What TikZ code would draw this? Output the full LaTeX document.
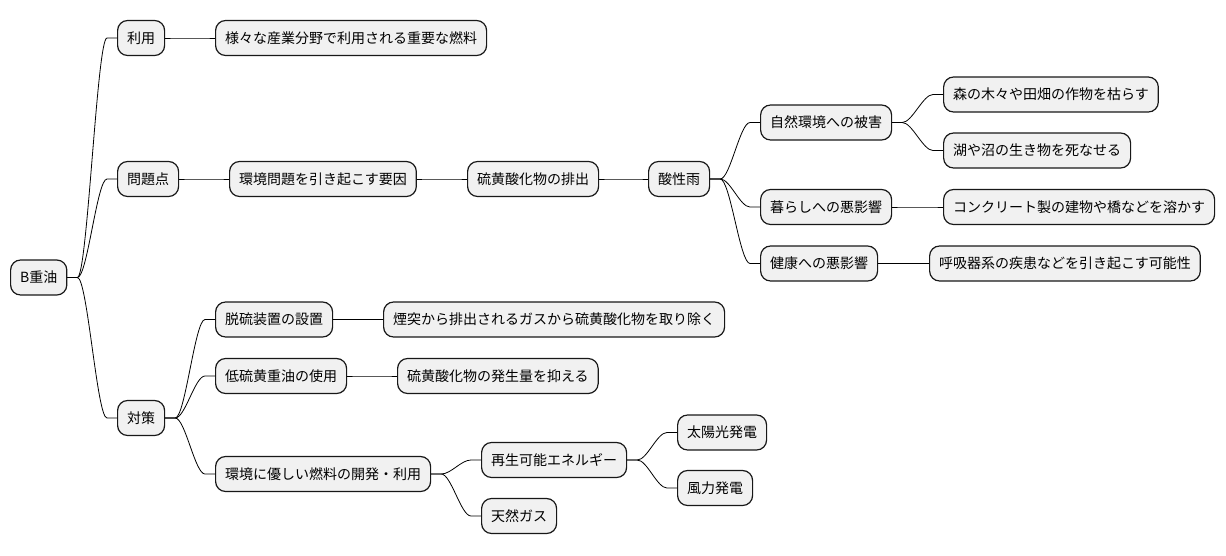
\documentclass[tikz,border=0pt]{standalone}
\usepackage{fontspec}
\newfontfamily\jpfont{Noto Sans CJK JP}
\usetikzlibrary{calc}
\definecolor{boxfill}{HTML}{F1F1F1}
\definecolor{boxline}{HTML}{181818}
\tikzset{
  topic/.style={draw=boxline, line width=1.2pt, fill=boxfill, rounded corners=10pt,
    anchor=west, minimum height=35pt, inner xsep=9.5pt, inner ysep=0pt,
    font=\jpfont\fontsize{14}{16}\selectfont},
  branch/.style={line width=0.8pt, draw=black},
}
\begin{document}
\begin{tikzpicture}[x=1pt, y=-1pt]
    \useasboundingbox (0,0) rectangle (1226,555);
    % Root
    \node[topic] (root) at (10,277.5) {B重油};

    % First level
    \node[topic] (use) at (117,38) {利用};
    \node[topic] (issue) at (117,179) {問題点};
    \node[topic] (measure) at (117,418) {対策};

    % Use
    \node[topic] (useFuel) at (215,38) {様々な産業分野で利用される重要な燃料};

    % Issues
    \node[topic] (issueCause) at (229,179) {環境問題を引き起こす要因};
    \node[topic] (sox) at (467,179) {硫黄酸化物の排出};
    \node[topic] (acidRain) at (648,179) {酸性雨};
    \node[topic] (nature) at (760,122.5) {自然環境への被害};
    \node[topic] (forest) at (943,94.5) {森の木々や田畑の作物を枯らす};
    \node[topic] (lake) at (943,150.5) {湖や沼の生き物を死なせる};
    \node[topic] (life) at (760,207) {暮らしへの悪影響};
    \node[topic] (concrete) at (943,207) {コンクリート製の建物や橋などを溶かす};
    \node[topic] (health) at (760,263.5) {健康への悪影響};
    \node[topic] (lung) at (929,263.5) {呼吸器系の疾患などを引き起こす可能性};

    % Measures
    \node[topic] (desulf) at (215,319.5) {脱硫装置の設置};
    \node[topic] (desulfEff) at (383,319.5) {煙突から排出されるガスから硫黄酸化物を取り除く};
    \node[topic] (lowSulf) at (215,376) {低硫黄重油の使用};
    \node[topic] (lowSulfEff) at (397,376) {硫黄酸化物の発生量を抑える};
    \node[topic] (ecoFuel) at (215,474) {環境に優しい燃料の開発・利用};
    \node[topic] (renew) at (481,460) {再生可能エネルギー};
    \node[topic] (solar) at (677,432.5) {太陽光発電};
    \node[topic] (wind) at (677,488) {風力発電};
    \node[topic] (gas) at (481,516) {天然ガス};

    % Branches
    \foreach \a/\b in {root/use, root/issue, root/measure, use/useFuel,
        issue/issueCause, issueCause/sox, sox/acidRain,
        acidRain/nature, acidRain/life, acidRain/health,
        nature/forest, nature/lake, life/concrete, health/lung,
        measure/desulf, measure/lowSulf, measure/ecoFuel,
        desulf/desulfEff, lowSulf/lowSulfEff,
        ecoFuel/renew, ecoFuel/gas, renew/solar, renew/wind}
      \draw[branch] (\a.east) -- ++(10,0)
        .. controls ($(\a.east)+(20,0)$) and ($(\b.west)+(-20,0)$) .. ($(\b.west)+(-10,0)$)
        -- (\b.west);
\end{tikzpicture}
\end{document}
